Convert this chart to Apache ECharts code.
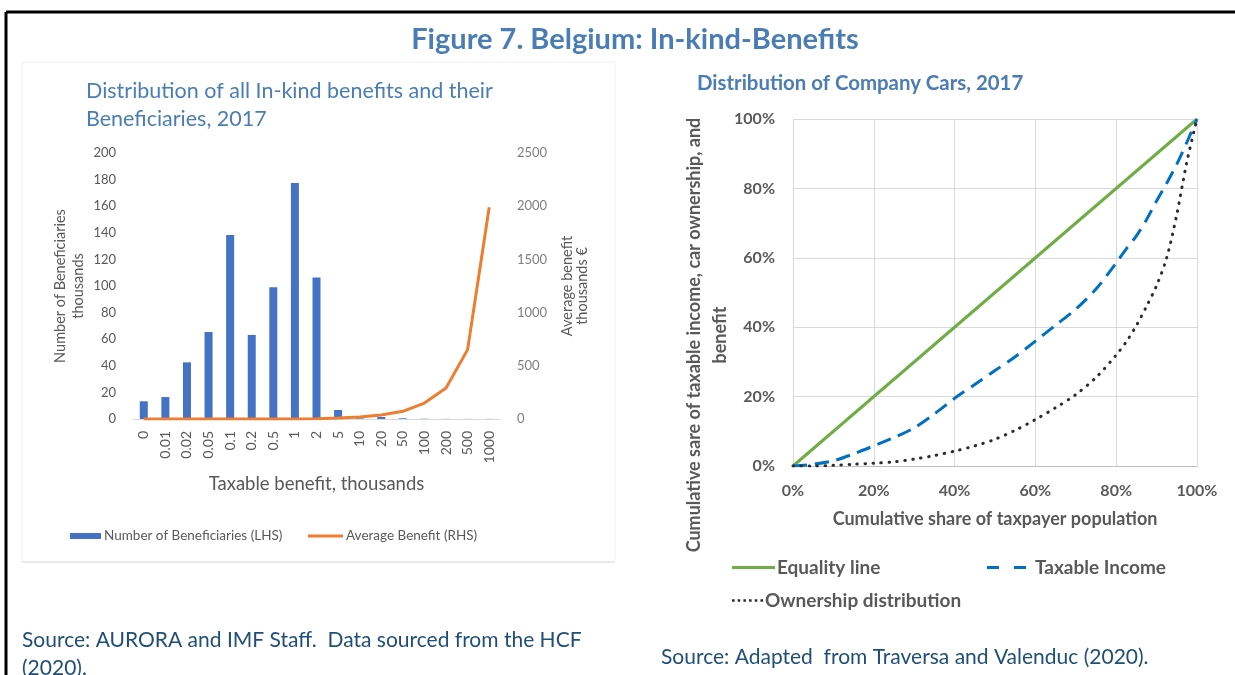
<!DOCTYPE html>
<html>
<head>
<meta charset="utf-8">
<script src="https://cdn.jsdelivr.net/npm/echarts@6/dist/echarts.min.js"></script>
<style>
  html, body { margin: 0; padding: 0; background: #fff; }
  #chart { width: 1235px; height: 675px; }
</style>
</head>
<body>
<div id="chart"></div>
<script>
// Left panel: in-kind benefit brackets (thousands)
const benefitBrackets = ['0', '0.01', '0.02', '0.05', '0.1', '0.2', '0.5', '1', '2', '5',
  '10', '20', '50', '100', '200', '500', '1000'];
// Number of beneficiaries, thousands (LHS)
const beneficiaries = [13.3, 16.5, 42.6, 65.4, 138.3, 63.2, 99, 177.4, 106.3, 6.8,
  0.5, 1.5, 0.5, 0.2, 0.1, 0.1, 0.1];
// Average benefit, thousands EUR (RHS)
const avgBenefit = [0, 0, 0, 0, 0.1, 0.2, 0.5, 1, 2, 9,
  19, 38, 72, 150, 291, 652, 1990];

// Right panel: cumulative share of taxpayer population (%)
const equalityShare = [0, 100];
const equalityLine = [0, 100];
const curveShare = [0, 5, 10, 15, 20, 25, 30, 35, 40, 45, 50, 55, 60, 65, 70, 75,
  80, 82.5, 85, 87.5, 90, 92.5, 95, 97.5, 100];
const taxableIncome = [0, 0.5, 1.5, 3.5, 5.8, 8.2, 11, 15, 19.5, 23.5, 27.5, 31.5, 36, 40.6, 45.2, 51,
  58.5, 62.6, 66.3, 71, 76.4, 81.5, 87, 93.3, 100];
const ownership = [0, 0, 0.2, 0.5, 0.8, 1.2, 2, 3, 4.3, 5.8, 7.7, 10.3, 13.4, 16.8, 20.6, 25.5,
  32, 35.8, 40.5, 46, 52, 60, 72.5, 87.7, 100];

const pairs = (xs, ys) => xs.map((x, i) => [x, ys[i]]);

const FONT = 'Lato, "Open Sans", sans-serif';
const GREY = '#595959';
const TITLE_BLUE = '#4a7db5';
const SOURCE_BLUE = '#1f4e79';

// legend glyphs: dashed pair, dotted run
const ICON_DASHED = 'path://M0,0h12v3h-12z M27,0h12v3h-12z';
const ICON_DOTTED = 'path://M0,0h2.5v2.5h-2.5z M5.6,0h2.5v2.5h-2.5z M11.2,0h2.5v2.5h-2.5z ' +
  'M16.8,0h2.5v2.5h-2.5z M22.4,0h2.5v2.5h-2.5z M28,0h2.5v2.5h-2.5z';

const smallLegend = { fontFamily: FONT, fontSize: 13.5, color: GREY, padding: [0, 0, 0, -2] };
const boldLegend = { fontFamily: FONT, fontSize: 19, fontWeight: 'bold', color: GREY, padding: [0, 0, 0, -3] };

const chart = echarts.init(document.getElementById('chart'), null, { renderer: 'canvas' });

chart.setOption({
  backgroundColor: '#ffffff',
  animation: false,
  textStyle: { fontFamily: FONT },
  title: [
    {
      text: 'Figure 7. Belgium: In-kind-Benefits',
      left: 630, top: 19, textAlign: 'center',
      textStyle: { fontFamily: FONT, fontSize: 29, fontWeight: 'bold', color: TITLE_BLUE, lineHeight: 32 }
    },
    {
      text: 'Distribution of all In-kind benefits and their\nBeneficiaries, 2017',
      left: 81, top: 72,
      textStyle: { fontFamily: FONT, fontSize: 21.5, fontWeight: 'normal', color: TITLE_BLUE, lineHeight: 28 }
    },
    {
      text: 'Distribution of Company Cars, 2017',
      left: 692, top: 66,
      textStyle: { fontFamily: FONT, fontSize: 20.4, fontWeight: 'bold', color: TITLE_BLUE, lineHeight: 24 }
    },
    {
      text: 'Source: AURORA and IMF Staff.  Data sourced from the HCF\n(2020).',
      left: 17, top: 621,
      textStyle: { fontFamily: FONT, fontSize: 21, fontWeight: 'normal', color: SOURCE_BLUE, lineHeight: 28 }
    },
    {
      text: 'Source: Adapted  from Traversa and Valenduc (2020).',
      left: 656, top: 640,
      textStyle: { fontFamily: FONT, fontSize: 21, fontWeight: 'normal', color: SOURCE_BLUE, lineHeight: 24 }
    }
  ],
  graphic: [
    // figure frame
    { type: 'line', shape: { x1: 6, y1: 12, x2: 1235, y2: 12 }, style: { stroke: '#000', lineWidth: 3 } },
    { type: 'line', shape: { x1: 6, y1: 12, x2: 6, y2: 675 }, style: { stroke: '#000', lineWidth: 3 } },
    // left chart area outline
    { type: 'rect', shape: { x: 22, y: 62, width: 593, height: 500 }, style: { fill: 'none', stroke: '#f2f2f2', lineWidth: 1 } },
    { type: 'line', shape: { x1: 22, y1: 562, x2: 615, y2: 562 }, style: { stroke: '#d9d9d9', lineWidth: 1 } },
    // right chart y-axis title
    {
      type: 'text', x: 707, y: 335, rotation: Math.PI / 2,
      style: {
        text: 'Cumulative sare of taxable income, car ownership, and\nbenefit',
        fontFamily: FONT, fontSize: 18, fontWeight: 'bold', fill: GREY,
        align: 'center', verticalAlign: 'middle', lineHeight: 26
      }
    }
  ],
  legend: [
    {
      data: [{ name: 'Number of Beneficiaries (LHS)', icon: 'rect' }],
      left: 65, top: 524, itemWidth: 31, itemHeight: 6, textStyle: smallLegend
    },
    {
      data: [{ name: 'Average Benefit (RHS)', icon: 'rect' }],
      left: 303, top: 524, itemWidth: 35, itemHeight: 3, textStyle: smallLegend
    },
    {
      data: [{ name: 'Equality line', icon: 'rect' }],
      left: 727, top: 553, itemWidth: 43, itemHeight: 3, textStyle: boldLegend
    },
    {
      data: [{ name: 'Taxable Income', icon: ICON_DASHED }],
      left: 982, top: 553, itemWidth: 39, itemHeight: 3, symbolKeepAspect: false,
      textStyle: Object.assign({}, boldLegend, { padding: [0, 0, 0, 4] })
    },
    {
      data: [{ name: 'Ownership distribution', icon: ICON_DOTTED }],
      left: 727, top: 586, itemWidth: 31, itemHeight: 2.5, symbolKeepAspect: false, textStyle: boldLegend
    }
  ],
  grid: [
    { left: 133, top: 153, width: 367, height: 266 },
    { left: 793, top: 119, width: 404, height: 347 }
  ],
  xAxis: [
    {
      gridIndex: 0, type: 'category', data: benefitBrackets, boundaryGap: true,
      name: 'Taxable benefit, thousands', nameLocation: 'middle', nameGap: 56,
      nameTextStyle: { fontFamily: FONT, fontSize: 18.5, color: GREY },
      axisLine: { lineStyle: { color: '#d9d9d9', width: 1 } },
      axisTick: { show: false },
      axisLabel: { rotate: 90, fontFamily: FONT, fontSize: 14, color: GREY, margin: 12, interval: 0 }
    },
    {
      gridIndex: 1, type: 'value', min: 0, max: 100, interval: 20,
      name: 'Cumulative share of taxpayer population', nameLocation: 'middle', nameGap: 44,
      nameTextStyle: { fontFamily: FONT, fontSize: 18, fontWeight: 'bold', color: GREY },
      axisLine: { lineStyle: { color: '#bfbfbf' } },
      axisTick: { show: false },
      axisLabel: { formatter: '{value}%', fontFamily: FONT, fontSize: 16, fontWeight: 'bold', color: GREY, margin: 17 },
      splitLine: { show: true, lineStyle: { color: '#d9d9d9', width: 1 } }
    }
  ],
  yAxis: [
    {
      gridIndex: 0, type: 'value', min: 0, max: 200, interval: 20,
      name: 'Number of Beneficiaries\nthousands', nameLocation: 'middle', nameGap: 46,
      nameTextStyle: { fontFamily: FONT, fontSize: 14.5, color: GREY, lineHeight: 18 },
      axisLine: { show: false }, axisTick: { show: false },
      axisLabel: { fontFamily: FONT, fontSize: 13, color: GREY, margin: 17, formatter: v => String(v) },
      splitLine: { show: false }
    },
    {
      gridIndex: 0, type: 'value', min: 0, max: 2500, interval: 500, position: 'right',
      name: 'Average benefit\nthousands €', nameLocation: 'middle', nameGap: 60,
      nameTextStyle: { fontFamily: FONT, fontSize: 14.5, color: GREY, lineHeight: 15 },
      axisLine: { show: false }, axisTick: { show: false },
      axisLabel: { fontFamily: FONT, fontSize: 13, color: '#7f7f7f', margin: 17, formatter: v => String(v) },
      splitLine: { show: false }
    },
    {
      gridIndex: 1, type: 'value', min: 0, max: 100, interval: 20,
      axisLine: { show: false }, axisTick: { show: false },
      axisLabel: { formatter: '{value}%', fontFamily: FONT, fontSize: 16, fontWeight: 'bold', color: GREY, margin: 18 },
      splitLine: { show: true, lineStyle: { color: '#d9d9d9', width: 1 } }
    }
  ],
  series: [
    {
      name: 'Number of Beneficiaries (LHS)', type: 'bar',
      xAxisIndex: 0, yAxisIndex: 0, data: beneficiaries,
      barWidth: 8, itemStyle: { color: '#4472c4' }
    },
    {
      name: 'Average Benefit (RHS)', type: 'line',
      xAxisIndex: 0, yAxisIndex: 1, data: avgBenefit,
      showSymbol: false, symbol: 'none',
      lineStyle: { color: '#ed7d31', width: 3 }, itemStyle: { color: '#ed7d31' }
    },
    {
      name: 'Equality line', type: 'line',
      xAxisIndex: 1, yAxisIndex: 2, data: pairs(equalityShare, equalityLine),
      showSymbol: false, symbol: 'none',
      lineStyle: { color: '#70ad47', width: 3 }, itemStyle: { color: '#70ad47' }
    },
    {
      name: 'Taxable Income', type: 'line', smooth: 0.3,
      xAxisIndex: 1, yAxisIndex: 2, data: pairs(curveShare, taxableIncome),
      showSymbol: false, symbol: 'none',
      lineStyle: { color: '#0070c0', width: 3, type: [14, 8] }, itemStyle: { color: '#0070c0' }
    },
    {
      name: 'Ownership distribution', type: 'line', smooth: 0.3,
      xAxisIndex: 1, yAxisIndex: 2, data: pairs(curveShare, ownership),
      showSymbol: false, symbol: 'none',
      lineStyle: { color: '#2b2b2b', width: 3, type: [0.5, 7.5], cap: 'round' }, itemStyle: { color: '#2b2b2b' }
    }
  ]
});
</script>
</body>
</html>
